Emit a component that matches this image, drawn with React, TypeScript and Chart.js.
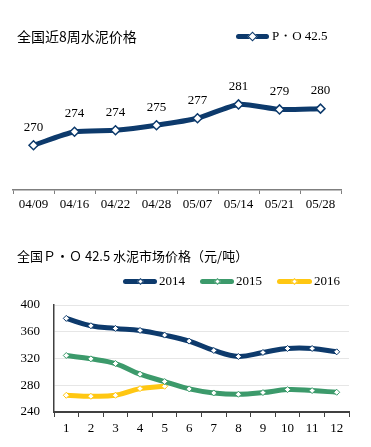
import React, { useEffect, useRef } from 'react';
import { Chart, registerables } from 'chart.js';

Chart.register(...registerables);

// ---- data ----
const weekLabels = ['04/09', '04/16', '04/22', '04/28', '05/07', '05/14', '05/21', '05/28'];
const weekPrices = [270.1, 273.6, 274.0, 275.3, 277.1, 280.7, 279.4, 279.6];
const weekSeriesName = 'P・O 42.5';

const monthLabels = ['1', '2', '3', '4', '5', '6', '7', '8', '9', '10', '11', '12'];
const price2014 = [380, 369, 365, 362, 355, 346, 332, 323, 329, 335, 335, 330];
const price2015 = [324.5, 319.5, 312.5, 296.5, 285.5, 274.5, 268.5, 266.5, 269, 273.5, 272, 269.5];
const price2016 = [265, 263.5, 265, 275, 278.5];
const seriesNames = ['2014', '2015', '2016'];

const NAVY = '#0D3A6C';
const GREEN = '#3C9A6B';
const YELLOW = '#FFC712';
const SERIF = '"Liberation Serif", "Times New Roman", serif';
const CJK = '"Noto Sans CJK SC", "Noto Sans", sans-serif';

const valueLabelPlugin = {
  id: 'valueLabels',
  afterDatasetsDraw(chart: any) {
    const ctx = chart.ctx;
    const meta = chart.getDatasetMeta(0);
    const data = chart.data.datasets[0].data as number[];
    ctx.save();
    ctx.font = `13px ${SERIF}`;
    ctx.fillStyle = '#000';
    ctx.textAlign = 'center';
    ctx.textBaseline = 'middle';
    meta.data.forEach((pt: any, i: number) => {
      ctx.fillText(String(Math.round(data[i])), pt.x, pt.y - 18);
    });
    ctx.restore();
  },
};

function LegendMark({ color, size, width }: { color: string; size: number; width: number }) {
  return (
    <span style={{ position: 'relative', display: 'inline-block', width, height: 12, verticalAlign: 'middle' }}>
      <span
        style={{
          position: 'absolute', left: 0, right: 0, top: 3.5, height: 5,
          background: color, borderRadius: 3,
        }}
      />
      <span
        style={{
          position: 'absolute', left: width / 2 - size / 2, top: 6 - size / 2, width: size, height: size,
          background: '#fff', border: `1px solid ${color}`, boxSizing: 'border-box', transform: 'rotate(45deg)',
        }}
      />
    </span>
  );
}

export default function App() {
  const topRef = useRef<HTMLCanvasElement>(null);
  const botRef = useRef<HTMLCanvasElement>(null);

  useEffect(() => {
    const top = new Chart(topRef.current as HTMLCanvasElement, {
      type: 'line',
      data: {
        labels: weekLabels,
        datasets: [
          {
            label: weekSeriesName,
            data: weekPrices,
            borderColor: NAVY,
            borderWidth: 5,
            tension: 0.2,
            pointStyle: 'rectRot',
            pointRadius: 4.5,
            pointBackgroundColor: '#fff',
            pointBorderColor: NAVY,
            pointBorderWidth: 1.5,
          },
        ],
      },
      options: {
        animation: false,
        responsive: false,
        layout: { padding: { left: 13, right: 30, top: 30, bottom: 0 } },
        plugins: { legend: { display: false }, tooltip: { enabled: false } },
        scales: {
          x: {
            offset: true,
            grid: { offset: true, drawOnChartArea: false, tickLength: 4, color: '#7F7F7F', lineWidth: 1 },
            border: { color: '#7F7F7F', width: 1.5 },
            ticks: { font: { family: SERIF, size: 13 }, color: '#000', padding: 3, autoSkip: false, maxRotation: 0 },
            afterFit: (s: any) => { s.height = 25; },
          },
          y: { display: false, min: 258.5, max: 300 },
        },
      },
      plugins: [valueLabelPlugin],
    } as any);

    const mk = (label: string, data: number[], color: string) => ({
      label,
      data,
      borderColor: color,
      backgroundColor: color,
      borderWidth: 5,
      tension: 0.4,
      pointStyle: 'rectRot',
      pointRadius: 3,
      pointBackgroundColor: '#fff',
      pointBorderColor: color,
      pointBorderWidth: 1,
    });

    const bot = new Chart(botRef.current as HTMLCanvasElement, {
      type: 'line',
      data: {
        labels: monthLabels,
        datasets: [
          mk(seriesNames[0], price2014, NAVY),
          mk(seriesNames[1], price2015, GREEN),
          mk(seriesNames[2], price2016, YELLOW),
        ],
      },
      options: {
        animation: false,
        responsive: false,
        layout: { padding: { left: 0, right: 22, top: 90, bottom: 0 } },
        plugins: { legend: { display: false }, tooltip: { enabled: false } },
        scales: {
          x: {
            offset: true,
            grid: { offset: true, drawOnChartArea: false, tickLength: 5, color: '#404040', lineWidth: 1 },
            border: { color: '#404040', width: 2 },
            ticks: { font: { family: SERIF, size: 13 }, color: '#000', padding: 4, autoSkip: false, maxRotation: 0 },
            afterFit: (s: any) => { s.height = 35; },
          },
          y: {
            min: 240,
            max: 400,
            ticks: { stepSize: 40, font: { family: SERIF, size: 13 }, color: '#000', padding: 14 },
            grid: { color: '#E6E6E6', drawTicks: false, lineWidth: 1 },
            border: { color: '#404040', width: 1.5 },
            afterFit: (s: any) => { s.width = 54; },
          },
        },
      },
    } as any);

    return () => {
      top.destroy();
      bot.destroy();
    };
  }, []);

  const legendText: React.CSSProperties = { fontFamily: SERIF, fontSize: 13, color: '#000', lineHeight: '16px' };

  return (
    <div style={{ position: 'absolute', left: 0, top: 0, width: 371, height: 447, background: '#fff', overflow: 'hidden' }}>
      <canvas ref={topRef} width={371} height={215} style={{ position: 'absolute', left: 0, top: 0, width: 371, height: 215 }} />
      <canvas ref={botRef} width={371} height={232} style={{ position: 'absolute', left: 0, top: 215, width: 371, height: 232 }} />

      <div style={{ position: 'absolute', left: 17, top: 26, fontFamily: CJK, fontSize: 14, lineHeight: '20px', color: '#000', whiteSpace: 'nowrap' }}>
        全国近8周水泥价格
      </div>
      <div style={{ position: 'absolute', left: 236, top: 28, display: 'flex', alignItems: 'center', whiteSpace: 'nowrap' }}>
        <LegendMark color={NAVY} size={7} width={33} />
        <span style={{ ...legendText, marginLeft: 3 }}>{weekSeriesName}</span>
      </div>

      <div style={{ position: 'absolute', left: 17, top: 246, fontFamily: CJK, fontSize: 13, lineHeight: '20px', color: '#000', whiteSpace: 'nowrap' }}>
        全国Ｐ・Ｏ 42.5 水泥市场价格（元/吨）
      </div>
      <div style={{ position: 'absolute', left: 123, top: 273, display: 'flex', alignItems: 'center', whiteSpace: 'nowrap' }}>
        <LegendMark color={NAVY} size={5} width={34} />
        <span style={{ ...legendText, marginLeft: 2, width: 41 }}>{seriesNames[0]}</span>
        <LegendMark color={GREEN} size={5} width={34} />
        <span style={{ ...legendText, marginLeft: 2, width: 41 }}>{seriesNames[1]}</span>
        <LegendMark color={YELLOW} size={5} width={35} />
        <span style={{ ...legendText, marginLeft: 2 }}>{seriesNames[2]}</span>
      </div>
    </div>
  );
}
